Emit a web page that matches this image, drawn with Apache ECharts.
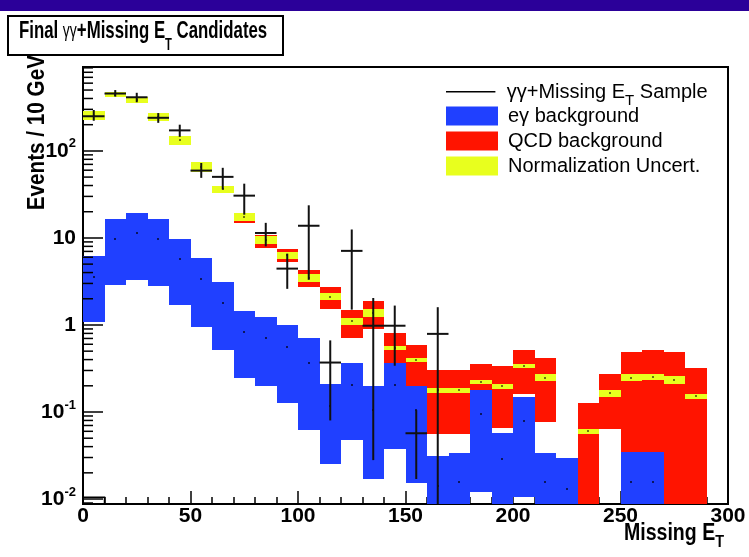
<!DOCTYPE html>
<html>
<head>
<meta charset="utf-8">
<script src="https://cdn.jsdelivr.net/npm/echarts@6/dist/echarts.min.js"></script>
<style>
  html, body { margin: 0; padding: 0; background: #fff; }
  #chart { width: 749px; height: 557px; }
</style>
</head>
<body>
<div id="chart"></div>
<script>
// Missing E_T in 10 GeV bins, 0 - 300 GeV
const binWidth = 10;
const binStarts = [0, 10, 20, 30, 40, 50, 60, 70, 80, 90, 100, 110, 120, 130, 140,
                   150, 160, 170, 180, 190, 200, 210, 220, 230, 240, 250, 260, 270, 280, 290];

// e-gamma background: band edges and central value (events / 10 GeV)
const egLow  = [1.07, 2.85, 3.26, 2.8, 1.71, 0.96, 0.52, 0.246, 0.2, 0.127, 0.0613, 0.0255, 0.0474, 0.017, 0.0376,
                0.0152, 0.005, 0.005, 0.0122, 0.005, 0.0106, 0.005, 0.005, null, null, 0.005, 0.005, null, null, null];
const egHigh = [6.15, 16.5, 19.2, 16.5, 9.8, 5.9, 3.12, 1.43, 1.24, 1.0, 0.71, 0.21, 0.37, 0.2, 0.37,
                0.2, 0.0315, 0.034, 0.18, 0.058, 0.149, 0.034, 0.03, null, null, 0.0346, 0.0346, null, null, null];
const egMid  = [3.6, 9.6, 11.4, 9.6, 5.7, 3.4, 1.79, 0.84, 0.71, 0.56, 0.37, 0.118, 0.206, 0.105, 0.206,
                0.105, 0.0141, 0.0156, 0.095, 0.0288, 0.078, 0.0156, 0.013, null, null, 0.0156, 0.0156, null, null, null];

// QCD background band
const qcdLow  = [null, null, null, null, null, null, null, 14.9, 7.67, 5.25, 2.73, 1.53, 0.71, 0.9, 0.37,
                 0.2, 0.056, 0.056, 0.0655, 0.0655, 0.162, 0.076, null, 0.005, 0.064, 0.005, 0.005, 0.005, 0.005, null];
const qcdHigh = [null, null, null, null, null, null, null, 19.4, 10.9, 7.5, 4.32, 2.73, 1.47, 1.9, 0.81,
                 0.59, 0.306, 0.30, 0.356, 0.334, 0.51, 0.418, null, 0.127, 0.275, 0.485, 0.51, 0.485, 0.32, null];

// normalization uncertainty around the total background prediction
const normLow  = [229, 413, 356, 219, 118, 56.7, 32.9, 15.5, 8.6, 5.74, 3.09, 1.92, 1.0, 1.24, 0.51,
                  0.375, 0.165, 0.165, 0.212, 0.184, 0.32, 0.225, null, 0.056, 0.149, 0.225, 0.235, 0.212, 0.141, null];
const normHigh = [285, 477, 413, 273, 147, 74, 39.9, 19.4, 10.4, 6.9, 3.89, 2.33, 1.2, 1.53, 0.567,
                  0.417, 0.189, 0.189, 0.235, 0.212, 0.356, 0.273, null, 0.064, 0.18, 0.273, 0.273, 0.256, 0.162, null];
const normMid  = [255, 444, 384, 245, 132, 64.8, 36.2, 17.3, 9.5, 6.3, 3.46, 2.1, 1.1, 1.37, 0.54,
                  0.395, 0.177, 0.177, 0.223, 0.197, 0.338, 0.248, null, 0.06, 0.164, 0.248, 0.255, 0.233, 0.152, null];

// gamma-gamma + missing E_T sample with error bars
const dataVal  = [250, 456, 413, 240, 172, 59.4, 50.3, 30.6, 11.4, 4.44, 13.8, 0.37, 7.1, 0.98, 0.98, 0.057, 0.79];
const dataLow  = [222, 420, 362, 210, 145, 49, 36, 18.5, 8.0, 2.6, 3.3, 0.08, 1.5, 0.028, 0.34, 0.017, 0.005];
const dataHigh = [295, 500, 465, 272, 200, 72.6, 63.9, 42, 14.9, 6.6, 23.7, 0.665, 12.5, 2.04, 1.67, 0.105, 1.6];

// empty outlined bin drawn at the floor of the first bin
const stubBins = [[0, 0.0105]];

// axis ranges and tick layout
const xMin = 0, xMax = 300, xStep = 50;
const yMin = 0.00877, yMax = 920;
const minorMantissas = [2, 3, 4, 5, 6, 7, 8, 9];
const minorDecades = [-3, -2, -1, 0, 1, 2];

const SAMPLE = 'γγ+Missing E_T Sample';
const EG = 'eγ background';
const QCD = 'QCD background';
const NORM = 'Normalization Uncert.';

const FONT = "'Liberation Sans', Arial, Helvetica, sans-serif";
const BLUE = '#2040ff', RED = '#ff1400', YELLOW = '#e8ff1e';

function bandData(lo, hi) {
  const out = [];
  binStarts.forEach((x, i) => {
    if (lo[i] != null && hi[i] != null) out.push([x, x + binWidth, lo[i], hi[i]]);
  });
  return out;
}
function midData(mid) {
  const out = [];
  binStarts.forEach((x, i) => { if (mid[i] != null) out.push([x + binWidth / 2, mid[i]]); });
  return out;
}
function crossData() {
  return dataVal.map((v, i) => [binStarts[i], binStarts[i] + binWidth, v, dataLow[i], dataHigh[i]]);
}
const minorTickValues = [];
minorDecades.forEach(d => minorMantissas.forEach(m => {
  const v = m * Math.pow(10, d);
  if (v > yMin && v < yMax) minorTickValues.push([xMin, v]);
}));

function gridRect(params) {
  const cs = params.coordSys;
  return { x: cs.x, y: cs.y, width: cs.width, height: cs.height };
}

function bandRenderer(color) {
  return function (params, api) {
    const a = api.coord([api.value(0), api.value(3)]);
    const b = api.coord([api.value(1), api.value(2)]);
    const x0 = Math.round(a[0]), x1 = Math.round(b[0]);
    const y0 = Math.round(a[1]), y1 = Math.round(b[1]);
    const r = echarts.graphic.clipRectByRect(
      { x: x0, y: y0, width: x1 - x0, height: y1 - y0 }, gridRect(params));
    if (!r) return null;
    return { type: 'rect', shape: r, style: { fill: color } };
  };
}
function dotRenderer(color) {
  return function (params, api) {
    const p = api.coord([api.value(0), api.value(1)]);
    return { type: 'rect', shape: { x: Math.round(p[0]) - 1, y: Math.round(p[1]) - 1, width: 2, height: 2 },
             style: { fill: color } };
  };
}
function crossRenderer(params, api) {
  const x0 = api.value(0), x1 = api.value(1), xc = (x0 + x1) / 2;
  const v = api.value(2), lo = api.value(3), hi = api.value(4);
  const l = api.coord([x0, v]), r = api.coord([x1, v]);
  const t = api.coord([xc, hi]), b = api.coord([xc, lo]);
  const cs = params.coordSys;
  const bottom = Math.min(b[1], cs.y + cs.height);
  const style = { stroke: '#111', lineWidth: 2 };
  return {
    type: 'group',
    children: [
      { type: 'line', shape: { x1: t[0], y1: t[1], x2: t[0], y2: bottom }, style },
      { type: 'line', shape: { x1: l[0], y1: l[1], x2: r[0], y2: r[1] }, style }
    ]
  };
}
function stubRenderer(params, api) {
  const a = api.coord([api.value(0), api.value(1)]);
  const b = api.coord([api.value(0) + binWidth, yMin]);
  return { type: 'rect', shape: { x: a[0], y: a[1], width: b[0] - a[0], height: b[1] - a[1] },
           style: { fill: 'none', stroke: '#000', lineWidth: 1.5 } };
}
function minorTickRenderer(params, api) {
  const p = api.coord([api.value(0), api.value(1)]);
  return { type: 'line', shape: { x1: p[0], y1: p[1], x2: p[0] + 10, y2: p[1] },
           style: { stroke: '#000', lineWidth: 1.5 } };
}

function yLabel(value) {
  const e = Math.log10(value);
  const k = Math.round(e);
  if (Math.abs(e - k) > 1e-6) return '';
  if (k === 0) return '{b|1}';
  if (k === 1) return '{b|10}';
  return '{b|10}{s|' + k + '}';
}

// shared legend look
const legendText = {
  color: '#000', fontFamily: FONT, fontSize: 20,
  rich: {
    f: { fontFamily: FONT, fontSize: 20, lineHeight: 19, color: '#000', padding: [0, 0, 0, 5] },
    t: { fontFamily: FONT, fontSize: 20, lineHeight: 19, color: '#000' },
    s: { fontFamily: FONT, fontSize: 15, lineHeight: 19, color: '#000', padding: [17, 0, 0, 0] }
  }
};
function legendLabel(name) {
  return name === SAMPLE ? '{f|γγ+Missing E}{s|T}{t| Sample}' : '{f|' + name + '}';
}

const chart = echarts.init(document.getElementById('chart'), null, { renderer: 'canvas' });
chart.setOption({
  animation: false,
  backgroundColor: '#fff',
  textStyle: { fontFamily: FONT },
  grid: { left: 83, right: 21, top: 67, bottom: 53, show: true, borderColor: '#000', borderWidth: 2,
          backgroundColor: 'transparent' },
  xAxis: {
    type: 'value', min: xMin, max: xMax, interval: xStep,
    axisLine: { lineStyle: { color: '#000', width: 2 } },
    axisTick: { inside: true, length: 13, lineStyle: { color: '#000', width: 1.5 } },
    minorTick: { show: true, splitNumber: 5, length: 7, lineStyle: { color: '#000', width: 1.5 } },
    splitLine: { show: false },
    axisLabel: { color: '#000', fontFamily: FONT, fontWeight: 'bold', fontSize: 21, margin: 2 }
  },
  yAxis: {
    type: 'log', logBase: 10, min: yMin, max: yMax,
    axisLine: { lineStyle: { color: '#000', width: 2 } },
    axisTick: { inside: true, length: 20, lineStyle: { color: '#000', width: 1.5 } },
    splitLine: { show: false },
    axisLabel: {
      margin: 7, formatter: yLabel, color: '#000',
      rich: {
        b: { fontFamily: FONT, fontWeight: 'bold', fontSize: 21, lineHeight: 22, color: '#000' },
        s: { fontFamily: FONT, fontWeight: 'bold', fontSize: 13, lineHeight: 22, color: '#000', padding: [0, 0, 14, 0] }
      }
    }
  },
  legend: [
    {
      orient: 'vertical', left: 446, top: 76, padding: 0,
      itemWidth: 52, itemHeight: 19, selectedMode: false,
      data: [{ name: SAMPLE, icon: 'path://M0,0L0,0M0,9L52,9L52,10.6L0,10.6ZM52,20L52,20' }],
      formatter: legendLabel, textStyle: legendText
    },
    {
      orient: 'vertical', left: 446, top: 106, padding: 0,
      itemWidth: 52, itemHeight: 19, itemGap: 5, selectedMode: false,
      data: [{ name: EG, icon: 'rect' }, { name: QCD, icon: 'rect' }, { name: NORM, icon: 'rect' }],
      formatter: legendLabel, textStyle: legendText
    }
  ],
  graphic: [
    { type: 'rect', left: 0, top: 0, shape: { width: 749, height: 11 }, style: { fill: '#2b0099' }, silent: true },
    { type: 'rect', shape: { x: 8, y: 16, width: 275, height: 39 }, style: { fill: '#fff', stroke: '#000', lineWidth: 2 } },
    {
      type: 'text', x: 19, y: 31, scaleX: 0.7,
      style: {
        text: '{a|Final }{g|γγ}{a|+Missing E}{s|T}{a| Candidates}',
        align: 'left', verticalAlign: 'middle',
        rich: {
          a: { fontFamily: FONT, fontWeight: 'bold', fontSize: 24, lineHeight: 24, fill: '#000' },
          g: { fontFamily: FONT, fontWeight: 'normal', fontSize: 20, lineHeight: 24, fill: '#000' },
          s: { fontFamily: FONT, fontWeight: 'bold', fontSize: 16, lineHeight: 24, fill: '#000', padding: [30, 0, 0, 0] }
        }
      }
    },
    {
      type: 'text', x: 38, y: 55, rotation: Math.PI / 2, scaleX: 0.9,
      style: { text: 'Events / 10 GeV', font: "bold 23px " + FONT, fill: '#000', align: 'right', verticalAlign: 'middle' }
    },
    {
      type: 'text', x: 724, y: 534, scaleX: 0.85,
      style: {
        text: '{a|Missing E}{s|T}', align: 'right', verticalAlign: 'middle',
        rich: {
          a: { fontFamily: FONT, fontWeight: 'bold', fontSize: 23, lineHeight: 23, fill: '#000' },
          s: { fontFamily: FONT, fontWeight: 'bold', fontSize: 17, lineHeight: 23, fill: '#000', padding: [16, 0, 0, 0] }
        }
      }
    }
  ],
  series: [
    { name: QCD, type: 'custom', clip: true, z: 2, itemStyle: { color: RED },
      renderItem: bandRenderer(RED), data: bandData(qcdLow, qcdHigh) },
    { name: NORM, type: 'custom', clip: true, z: 3, itemStyle: { color: YELLOW },
      renderItem: bandRenderer(YELLOW), data: bandData(normLow, normHigh) },
    { name: EG, type: 'custom', clip: true, z: 4, itemStyle: { color: BLUE },
      renderItem: bandRenderer(BLUE), data: bandData(egLow, egHigh) },
    { name: 'eγ central', type: 'custom', clip: true, z: 5,
      renderItem: dotRenderer('#0a1660'), data: midData(egMid) },
    { name: 'total central', type: 'custom', clip: true, z: 5,
      renderItem: dotRenderer('#6f7410'), data: midData(normMid) },
    { name: 'floor bin', type: 'custom', clip: true, z: 5,
      renderItem: stubRenderer, data: stubBins },
    { name: 'y minor ticks', type: 'custom', clip: false, z: 6,
      renderItem: minorTickRenderer, data: minorTickValues },
    { name: SAMPLE, type: 'custom', clip: true, z: 7, itemStyle: { color: '#000' },
      renderItem: crossRenderer, data: crossData() }
  ]
});
</script>
</body>
</html>
